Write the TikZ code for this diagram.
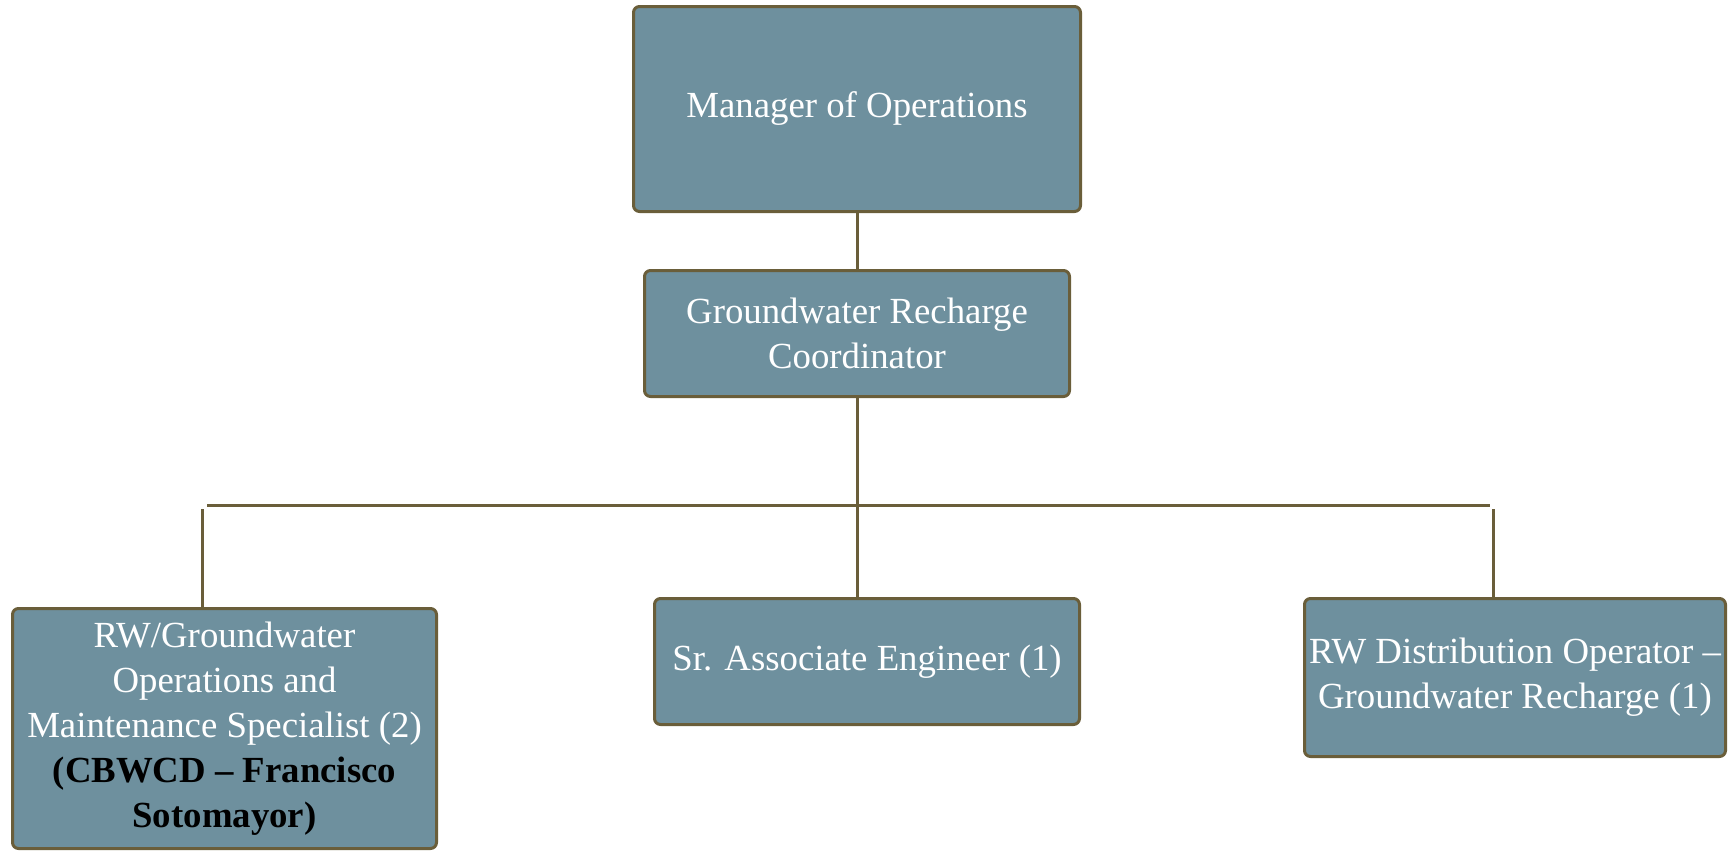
\documentclass[tikz,border=0pt]{standalone}
\usepackage{fontspec}
\setmainfont{Liberation Serif}
\usetikzlibrary{positioning}
\definecolor{boxfill}{RGB}{110,144,158}
\definecolor{boxline}{RGB}{106,94,58}

\begin{document}
\begin{tikzpicture}[
    node distance=28pt,
    box/.style={rectangle, draw=boxline, fill=boxfill, line width=1.5pt,
    rounded corners=3pt, text=white, align=center, inner sep=1pt,
    font=\fontsize{18.4}{22.5}\selectfont},
    link/.style={draw=boxline, line width=1.5pt} ]

    \useasboundingbox (0,0) rectangle (865pt,-426pt);

    % Manager and coordinator
    \node[box, minimum width=223.5pt, minimum height=102.5pt] (mgr)
        at (428.5pt,-54.5pt) {Manager of Operations};
    \node[box, below=of mgr, minimum width=212.5pt, minimum height=63pt]
        (coord) {Groundwater Recharge\\Coordinator};

    % Staff row
    \node[box, below=99.5pt of coord, xshift=5pt, minimum width=212.5pt,
        minimum height=63pt] (eng) {Sr. Associate Engineer (1)};
    \node[box, anchor=north, minimum width=212pt, minimum height=120pt]
        (spec) at (112.25pt,-303.5pt)
        {RW/Groundwater\\Operations and\\Maintenance Specialist (2)\\
         \textcolor{black}{\textbf{(CBWCD -- Francisco}}\\
         \textcolor{black}{\textbf{Sotomayor)}}};
    \node[box, anchor=north west, minimum width=210.5pt, minimum height=79pt]
        (oper) at ([xshift=111pt]eng.north east)
        {RW Distribution Operator --\\Groundwater Recharge (1)};

    % Bus and drops
    \coordinate (busL) at (103.5pt,-252.75pt);
    \coordinate (busR) at (745pt,-252.75pt);
    \coordinate (dropL) at (101pt,-254.5pt);
    \coordinate (dropR) at (746.5pt,-254.5pt);

    \draw[link] (mgr) -- (coord);
    \draw[link] (coord.south) -- (coord.south |- eng.north);
    \draw[link] (busL) -- (busR);
    \draw[link] (dropL) -- (dropL |- spec.north);
    \draw[link] (dropR) -- (dropR |- oper.north);

  \end{tikzpicture}
\end{document}
